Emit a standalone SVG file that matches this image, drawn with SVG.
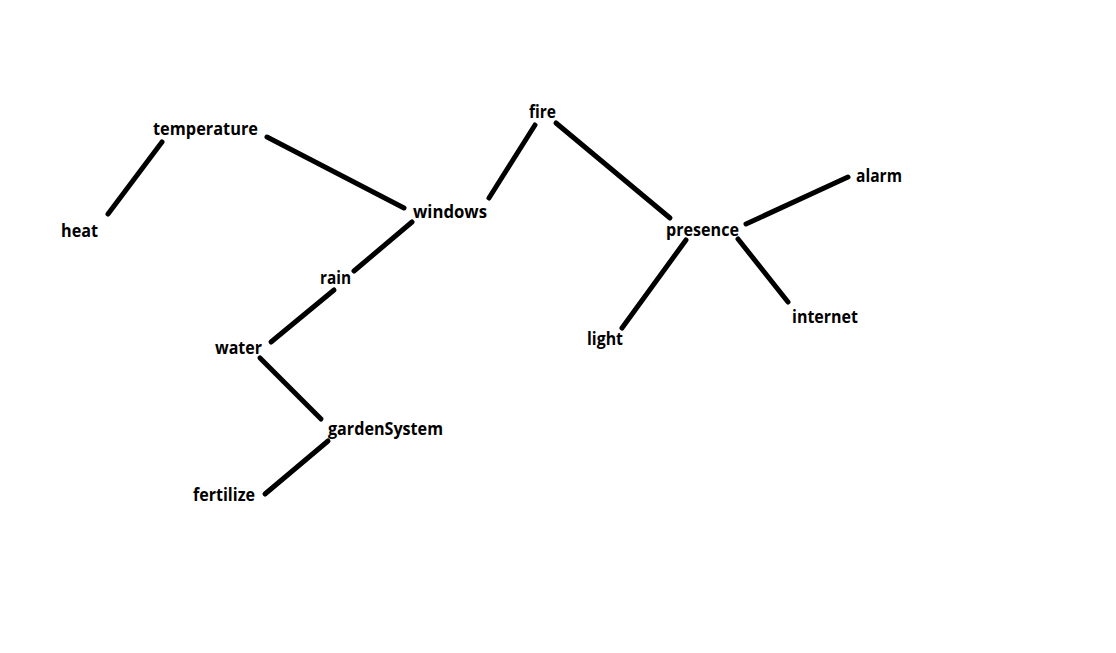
<svg xmlns="http://www.w3.org/2000/svg" width="1116" height="653" viewBox="0 0 1116 653">
<style>
.lbl{font-family:"Open Sans","Liberation Sans",sans-serif;font-weight:bold;font-size:17.5px;fill:#000}
.edge{stroke:#000;stroke-width:5;stroke-linecap:round;fill:none}
</style>
<rect width="1116" height="653" fill="#fff"/>
<g id="connectors">
<line class="edge" x1="108" y1="214" x2="162" y2="142"/>
<line class="edge" x1="267" y1="137" x2="404" y2="208"/>
<line class="edge" x1="412" y1="222" x2="354" y2="271"/>
<line class="edge" x1="334" y1="290" x2="271" y2="342"/>
<line class="edge" x1="260" y1="358" x2="321" y2="419"/>
<line class="edge" x1="328" y1="441" x2="265" y2="494"/>
<line class="edge" x1="535" y1="125" x2="489" y2="198"/>
<line class="edge" x1="556" y1="123" x2="670" y2="218"/>
<line class="edge" x1="746" y1="224" x2="848" y2="177"/>
<line class="edge" x1="686" y1="240" x2="622" y2="328"/>
<line class="edge" x1="738" y1="239" x2="788" y2="302"/>
</g>
<g id="temperature"><text class="lbl" x="153" y="135" textLength="105" lengthAdjust="spacingAndGlyphs">temperature</text></g>
<g id="heat"><text class="lbl" x="61" y="237" textLength="37" lengthAdjust="spacingAndGlyphs">heat</text></g>
<g id="windows"><text class="lbl" x="413" y="218" textLength="74" lengthAdjust="spacingAndGlyphs">windows</text></g>
<g id="fire"><text class="lbl" x="529" y="118" textLength="27" lengthAdjust="spacingAndGlyphs">fire</text></g>
<g id="presence"><text class="lbl" x="666" y="236" textLength="73" lengthAdjust="spacingAndGlyphs">presence</text></g>
<g id="alarm"><text class="lbl" x="856" y="182" textLength="46" lengthAdjust="spacingAndGlyphs">alarm</text></g>
<g id="internet"><text class="lbl" x="792" y="323" textLength="66" lengthAdjust="spacingAndGlyphs">internet</text></g>
<g id="light"><text class="lbl" x="587" y="345" textLength="36" lengthAdjust="spacingAndGlyphs">light</text></g>
<g id="rain"><text class="lbl" x="320" y="284" textLength="31" lengthAdjust="spacingAndGlyphs">rain</text></g>
<g id="water"><text class="lbl" x="215" y="354" textLength="47" lengthAdjust="spacingAndGlyphs">water</text></g>
<g id="gardenSystem"><text class="lbl" x="328" y="435" textLength="115" lengthAdjust="spacingAndGlyphs">gardenSystem</text></g>
<g id="fertilize"><text class="lbl" x="193" y="501" textLength="62" lengthAdjust="spacingAndGlyphs">fertilize</text></g>
</svg>
